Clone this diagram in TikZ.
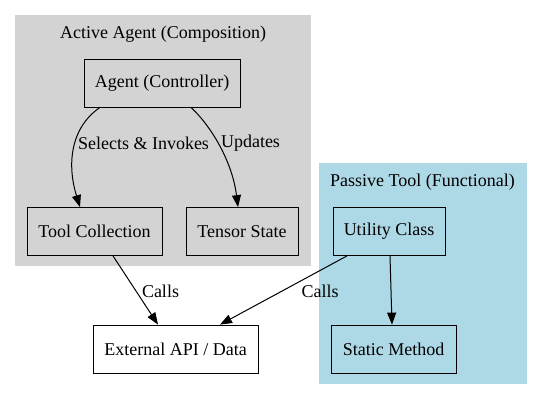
\documentclass[tikz,border=0pt]{standalone}
\usepackage{fontspec}
\setmainfont{Liberation Serif}
\usepackage{xcolor}
\usetikzlibrary{positioning,calc,arrows.meta}
\definecolor{clgray}{HTML}{D3D3D3}
\definecolor{clblue}{HTML}{ADD8E6}
\tikzset{
    box/.style={draw, line width=0.8bp, minimum height=48bp, inner sep=0pt},
    link/.style={line width=1bp, -{Triangle[length=12bp,width=9bp]}},
}
\begin{document}
\begin{tikzpicture}[x=1bp, y=-1bp, font=\fontsize{18bp}{20bp}\selectfont]
        \useasboundingbox (0,0) rectangle (543,400);
        % clusters
        \fill [clgray] (15,15) rectangle (311,266);
        \fill [clblue] (319,163) rectangle (527,384);
        \node (actitle) at (163,34) {Active Agent (Composition)};
        \node (patitle) at (422.5,182) {Passive Tool (Functional)};

        % nodes
        \node [box, minimum width=156bp] (agent) at (162,83) {Agent (Controller)};
        \node [box, minimum width=135bp] (tools) at (94.5,231.5) {Tool Collection};
        \node [box, minimum width=112bp] (tensor) at (242,231.5) {Tensor State};
        \node [box, minimum width=112bp] (util) at (389,231.5) {Utility Class};
        \node [box, minimum width=125bp] (static) at (393.5,349) {Static Method};
        \node [box, minimum width=165bp, fill=white] (ext) at (175.5,349) {External API / Data};

        % edges
        \draw [link] ([xshift=-62bp]agent.south) .. controls (70,128) and (67,165) .. ([xshift=-14.5bp]tools.north);
        \draw [link] ([xshift=29bp]agent.south) .. controls (210,125) and (232,160) .. ([xshift=-4bp]tensor.north);
        \draw [link] ([xshift=18.5bp]tools.south) -- ([xshift=-17.5bp]ext.north);
        \draw [link] ([xshift=-42bp]util.south) -- ([xshift=44.5bp]ext.north);
        \draw [link] ([xshift=1bp]util.south) -- ([xshift=-1.5bp]static.north);

        % labels
        \node (lsel) at (143.5,143) {Selects \& Invokes};
        \node (lupd) at (250.5,143) {Updates};
        \node (lcall) at (160.5,291) {Calls};
        \node (lcallb) at (320,291) {Calls};
    \end{tikzpicture}
\end{document}
